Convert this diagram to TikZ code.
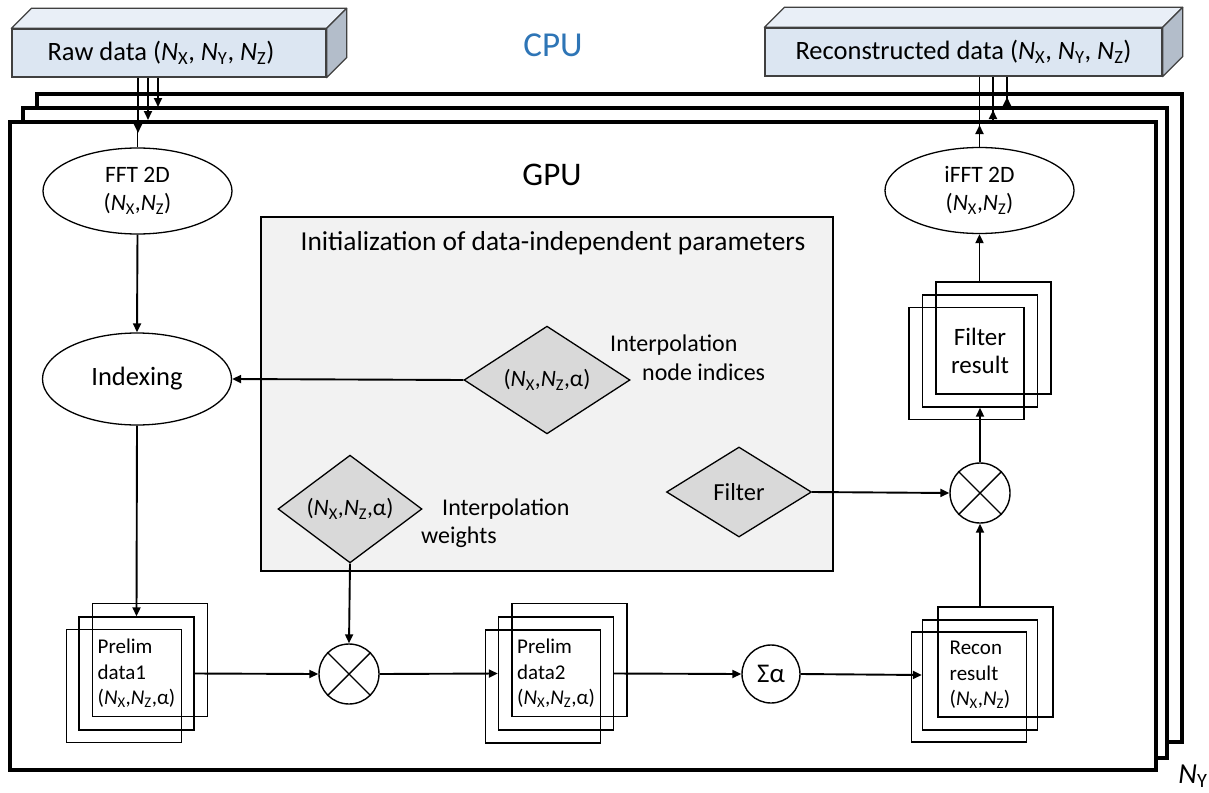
\documentclass[tikz,border=0pt]{standalone}
\usepackage{fontspec}
\setmainfont{Carlito}
\usetikzlibrary{shapes.geometric,arrows.meta,calc}
\definecolor{boxfront}{HTML}{DCE6F2}
\definecolor{boxtop}{HTML}{E9EFF7}
\definecolor{boxside}{HTML}{B3BDCA}
\definecolor{initfill}{HTML}{F2F2F2}
\definecolor{diafill}{HTML}{D9D9D9}
\definecolor{cpublue}{HTML}{2E75B6}
\newcommand{\Nsub}[1]{\textit{N}\textsubscript{#1}}
\newcommand{\fs}[2]{\fontsize{#1}{#2}\selectfont}
\begin{document}
\begin{tikzpicture}[x=1pt,y=-1pt,
  gpuframe/.style={draw, line width=3.5pt, fill=white},
  conn/.style={line width=1.9pt, -{Triangle[length=9pt,width=8pt]}},
  plainline/.style={line width=1.9pt},
  cube/.style={draw=black!75, line width=1.3pt, fill=boxfront, minimum height=48pt, inner sep=0pt, font=\fs{26.5}{31}},
  cubeface/.style={draw=black!75, line width=1.3pt, line join=round},
  ell/.style={ellipse, draw, line width=1.3pt, fill=white, minimum width=189pt, minimum height=86pt, inner sep=0pt, align=center, font=\fs{23.5}{28}},
  dia/.style={diamond, draw, line width=1.3pt, fill=diafill, inner sep=0pt, font=\fs{23.5}{28}},
  stk/.style={draw, line width=1.4pt, minimum width=115pt, minimum height=113pt, inner sep=0pt},
  mult/.style={circle, draw, line width=1.4pt, minimum size=60pt, inner sep=0pt, fill=white},
  crossline/.style={line width=1.4pt}
]
\useasboundingbox (0,0) rectangle (1209,792);
\fill[white] (0,0) rectangle (1209,792);

% GPU frames (N_Y stack)
\draw[gpuframe] (37,94) rectangle (1182,742);
\draw[gpuframe] (23,108) rectangle (1167,758);
\draw[gpuframe] (10,122) rectangle (1156,770);

% CPU data boxes
\node[cube, minimum width=314pt] (raw) at (169,53) {\hspace*{-16pt}Raw data (\Nsub{X}, \Nsub{Y}, \Nsub{Z})};
\filldraw[cubeface, fill=boxtop] (raw.north west) -- ++(20,-20) -- ($(raw.north east)+(20,-20)$) -- (raw.north east) -- cycle;
\filldraw[cubeface, fill=boxside] (raw.north east) -- ++(20,-20) -- ($(raw.south east)+(20,-20)$) -- (raw.south east) -- cycle;

\node[cube, minimum width=397pt] (rec) at (963.5,52) {Reconstructed data (\Nsub{X}, \Nsub{Y}, \Nsub{Z})};
\filldraw[cubeface, fill=boxtop] (rec.north west) -- ++(20,-20) -- ($(rec.north east)+(20,-20)$) -- (rec.north east) -- cycle;
\filldraw[cubeface, fill=boxside] (rec.north east) -- ++(20,-20) -- ($(rec.south east)+(20,-20)$) -- (rec.south east) -- cycle;

\node[text=cpublue, font=\fs{35}{42}] (cpu) at (553,45) {CPU};
\node[font=\fs{33}{40}] (gpu) at (552,175) {GPU};

% initialization box
\node[draw, line width=1.8pt, fill=initfill, minimum width=572pt, minimum height=354pt, inner sep=0pt] (init) at (547,394) {};
\node[font=\fs{27.4}{32}] (ttl) at (553,243) {Initialization of data-independent parameters};

% ellipses
\node[ell] (fft) at (137.5,191) {FFT 2D\\(\Nsub{X},\Nsub{Z})};
\node[ell] (ifft) at (979.5,190.5) {iFFT 2D\\(\Nsub{X},\Nsub{Z})};
\node[ell, minimum height=92pt, font=\fs{26.5}{32}] (idx) at (137,379) {Indexing};

% diamonds
\node[dia, minimum width=166pt, minimum height=103pt] (d1) at (547,380) {(\Nsub{X},\Nsub{Z},α)};
\node[dia, minimum width=144pt, minimum height=89pt] (d2) at (350,509) {(\Nsub{X},\Nsub{Z},α)};
\node[dia, minimum width=145pt, minimum height=90pt, font=\fs{24.5}{29}] (flt) at (739,492) {Filter};

\node[anchor=west, align=left, inner sep=0pt, font=\fs{24}{29}] (lab1) at (610,357.5) {Interpolation\\\hspace*{32pt}node indices};
\node[anchor=west, align=left, inner sep=0pt, font=\fs{24}{28}] (lab2) at (421,523) {\hspace*{21pt}Interpolation\\weights};

% stacks
\node[stk] (p1b) at (150,660) {};
\node[stk, align=left, font=\fs{21}{25.5}] (p1) at (136.5,673.5) {Prelim\\data1\\(\Nsub{X},\Nsub{Z},α)};
\node[stk] (p1f) at (124,686) {};

\node[stk] (p2b) at (569.5,660) {};
\node[stk, align=left, font=\fs{21}{25.5}] (p2) at (556,673.5) {Prelim\\data2\\(\Nsub{X},\Nsub{Z},α)};
\node[stk] (p2f) at (543,686.5) {};

\node[stk, minimum height=110pt] (rcb) at (995.5,662) {};
\node[stk, minimum height=110pt, align=left, font=\fs{21}{25.5}] (rc) at (980,675) {Recon\\result\\(\Nsub{X},\Nsub{Z})};
\node[stk, minimum height=110pt] (rcf) at (969,687) {};

\node[stk, minimum height=112pt] (frb) at (993.5,338) {};
\node[stk, minimum height=112pt, align=center, font=\fs{25}{28}] (fr) at (980,351) {Filter\\result};
\node[stk, minimum height=112pt] (frf) at (966.5,363.5) {};

% operators
\node[mult] (m1) at (349,674) {};
\draw[crossline] (m1.north east) -- (m1.south west) (m1.north west) -- (m1.south east);
\node[mult] (m2) at (980,493) {};
\draw[crossline] (m2.north east) -- (m2.south west) (m2.north west) -- (m2.south east);
\node[mult, minimum size=58pt, font=\fs{27}{32}] (sa) at (771,674) {Σα};

% CPU -> GPU transfers
\coordinate (r1) at (138,133);
\coordinate (r2) at (148,120);
\coordinate (r3) at (158,107);
\draw[plainline] (raw.south -| fft.north) -- (fft.north);
\draw[conn] (raw.south -| r1) -- (r1);
\draw[conn] (raw.south -| r2) -- (r2);
\draw[conn] (raw.south -| r3) -- (r3);

% GPU -> CPU transfers
\coordinate (u1) at (979.5,125);
\coordinate (u2s) at (993,122);
\coordinate (u2) at (993,110);
\coordinate (u3s) at (1007,108);
\coordinate (u3) at (1007,97);
\draw[plainline] (ifft.north) -- (rec.south -| ifft.north);
\draw[conn] (ifft.north) -- (u1);
\draw[plainline] (u2s) -- (rec.south -| u2s);
\draw[conn] (u2s) -- (u2);
\draw[plainline] (u3s) -- (rec.south -| u3s);
\draw[conn] (u3s) -- (u3);

% flow
\draw[conn] (fft.south) -- (idx.north);
\draw[conn] (d1.west) -- (idx.east);
\draw[conn] (idx.south) -- (p1.north);
\draw[conn] (p1.east) -- (m1.west);
\draw[conn] (d2.south) -- (m1.north);
\draw[conn] (m1.east) -- (p2.west);
\draw[conn] (p2.east) -- (sa.west);
\draw[conn] (sa.east) -- (rc.west);
\draw[conn] (rcb.north -| m2.south) -- (m2.south);
\draw[conn] (flt.east) -- (m2.west);
\draw[conn] (m2.north) -- (fr.south);
\draw[conn] (frb.north -| ifft.south) -- (ifft.south);

\node[font=\fs{29}{34}] (ny) at (1193,776) {\Nsub{Y}};
\end{tikzpicture}
\end{document}
